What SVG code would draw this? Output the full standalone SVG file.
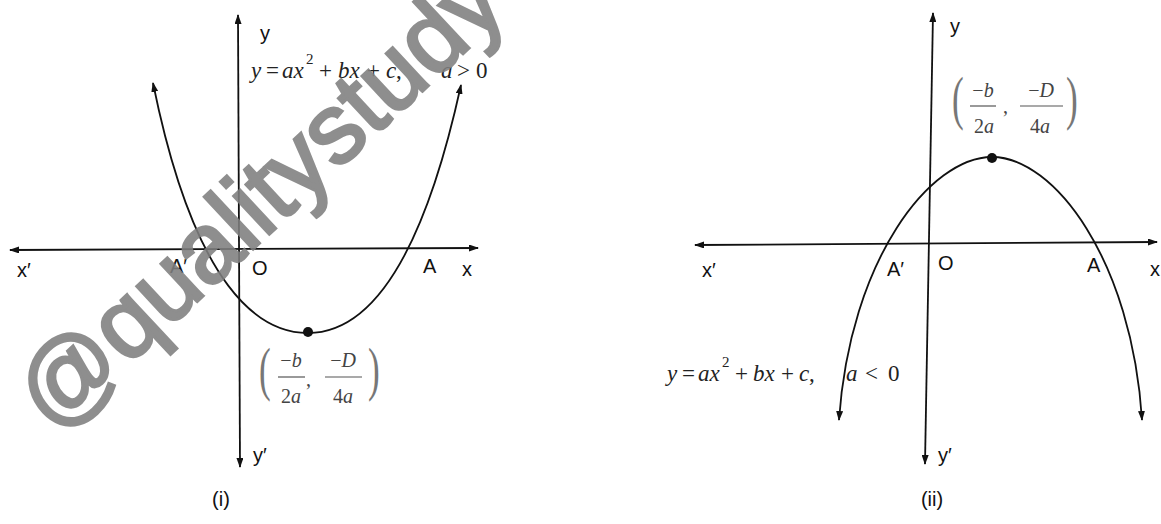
<svg xmlns="http://www.w3.org/2000/svg" width="1161" height="524" viewBox="0 0 1161 524">
<style>
.ax{fill:none;stroke:#111;stroke-width:1.8}
.cv{fill:none;stroke:#111;stroke-width:1.8}
.lab{font-family:"Liberation Sans",Arial,sans-serif;font-size:20px;fill:#111}
.m{font-family:"Liberation Serif","Times New Roman",serif;font-size:23px;fill:#222}
.i{font-style:italic}
.sup{font-size:15px}
.fr{font-family:"Liberation Serif","Times New Roman",serif;font-size:20px;fill:#444}
.par{font-family:"Liberation Serif","Times New Roman",serif;font-size:44px;fill:#777}
.bar{stroke:#555;stroke-width:1.2}
.wm{font-family:"Liberation Sans",Arial,sans-serif;font-size:99px;fill:#7f7f7f;stroke:#7f7f7f;stroke-width:3;opacity:0.88}
</style>
<defs>
<marker id="arr" viewBox="0 0 10 7" refX="9" refY="3.5" markerWidth="10" markerHeight="7" markerUnits="userSpaceOnUse" orient="auto-start-reverse">
<path d="M0,0 L10,3.5 L0,7 z" fill="#111"/>
</marker>
</defs>
<rect width="1161" height="524" fill="#fff"/>

<g id="connectors">
<line class="ax" x1="10" y1="250" x2="478" y2="248" marker-start="url(#arr)" marker-end="url(#arr)"/>
<line class="ax" x1="238" y1="15" x2="240" y2="467" marker-start="url(#arr)" marker-end="url(#arr)"/>
<path class="cv" d="M153,83 C195,290 260,333 308,333 C356,333 416,290 461,85" marker-start="url(#arr)" marker-end="url(#arr)"/>
<line class="ax" x1="695" y1="245" x2="1157" y2="242" marker-start="url(#arr)" marker-end="url(#arr)"/>
<line class="ax" x1="933" y1="13" x2="925" y2="464" marker-start="url(#arr)" marker-end="url(#arr)"/>
<path class="cv" d="M839,420 C850,260 930,157 992,157 C1054,157 1132,260 1142,420" marker-start="url(#arr)" marker-end="url(#arr)"/>
</g>

<g id="vertex-i">
<circle cx="308" cy="332" r="5" fill="#111"/>
<text class="par" transform="translate(259,389) scale(0.8,1.35)">(</text>
<text class="fr" x="291" y="367" text-anchor="middle">−<tspan class="i">b</tspan></text>
<line class="bar" x1="278" y1="377" x2="305" y2="377"/>
<text class="fr" x="291" y="403" text-anchor="middle">2<tspan class="i">a</tspan></text>
<text class="fr" x="306" y="386">,</text>
<text class="fr" x="343" y="367" text-anchor="middle">−<tspan class="i">D</tspan></text>
<line class="bar" x1="325" y1="377" x2="362" y2="377"/>
<text class="fr" x="343" y="403" text-anchor="middle">4<tspan class="i">a</tspan></text>
<text class="par" transform="translate(368,389) scale(0.8,1.35)">)</text>
</g>

<g id="vertex-ii">
<circle cx="992" cy="158" r="5" fill="#111"/>
<text class="par" transform="translate(952,118) scale(0.8,1.35)">(</text>
<text class="fr" x="983" y="97" text-anchor="middle">−<tspan class="i">b</tspan></text>
<line class="bar" x1="970" y1="106" x2="996" y2="106"/>
<text class="fr" x="984" y="133" text-anchor="middle">2<tspan class="i">a</tspan></text>
<text class="fr" x="1003" y="113">,</text>
<text class="fr" x="1041" y="97" text-anchor="middle">−<tspan class="i">D</tspan></text>
<line class="bar" x1="1020" y1="106" x2="1063" y2="106"/>
<text class="fr" x="1040" y="133" text-anchor="middle">4<tspan class="i">a</tspan></text>
<text class="par" transform="translate(1066,118) scale(0.8,1.35)">)</text>
</g>

<g id="equation-i">
<text class="m"><tspan class="i" x="251" y="78">y</tspan><tspan x="266" y="78">=</tspan><tspan class="i" x="282" y="78">a</tspan><tspan class="i" x="293.5" y="78">x</tspan><tspan class="sup" x="306" y="64">2</tspan><tspan x="319" y="78">+</tspan><tspan class="i" x="338" y="78">b</tspan><tspan class="i" x="349.5" y="78">x</tspan><tspan x="367" y="78">+</tspan><tspan class="i" x="386" y="78">c</tspan><tspan x="396" y="78">,</tspan><tspan class="i" x="441" y="78">a</tspan><tspan x="457" y="78">&gt;</tspan><tspan x="476" y="78">0</tspan></text>
</g>

<g id="equation-ii">
<text class="m"><tspan class="i" x="667" y="381">y</tspan><tspan x="682" y="381">=</tspan><tspan class="i" x="698" y="381">a</tspan><tspan class="i" x="709.5" y="381">x</tspan><tspan class="sup" x="722" y="367">2</tspan><tspan x="735" y="381">+</tspan><tspan class="i" x="753" y="381">b</tspan><tspan class="i" x="764.5" y="381">x</tspan><tspan x="781" y="381">+</tspan><tspan class="i" x="799" y="381">c</tspan><tspan x="809" y="381">,</tspan><tspan class="i" x="846" y="381">a</tspan><tspan x="865" y="381">&lt;</tspan><tspan x="888" y="381">0</tspan></text>
</g>

<g id="labels-i">
<text class="lab" x="260" y="40">y</text>
<text class="lab" x="17" y="277">x′</text>
<text class="lab" x="170" y="273">A′</text>
<text class="lab" x="252" y="275">O</text>
<text class="lab" x="423" y="273">A</text>
<text class="lab" x="462" y="276">x</text>
<text class="lab" x="253" y="462">y′</text>
<text class="lab" x="221" y="506" text-anchor="middle">(i)</text>
</g>

<g id="labels-ii">
<text class="lab" x="950" y="33">y</text>
<text class="lab" x="702" y="277">x′</text>
<text class="lab" x="887" y="276">A′</text>
<text class="lab" x="938" y="270">O</text>
<text class="lab" x="1087" y="272">A</text>
<text class="lab" x="1150" y="276">x</text>
<text class="lab" x="938" y="462">y′</text>
<text class="lab" x="932" y="506" text-anchor="middle">(ii)</text>
</g>

<g id="watermark">
<text class="wm" transform="translate(54,435) rotate(-43)">@qualitystudy</text>
</g>
</svg>
